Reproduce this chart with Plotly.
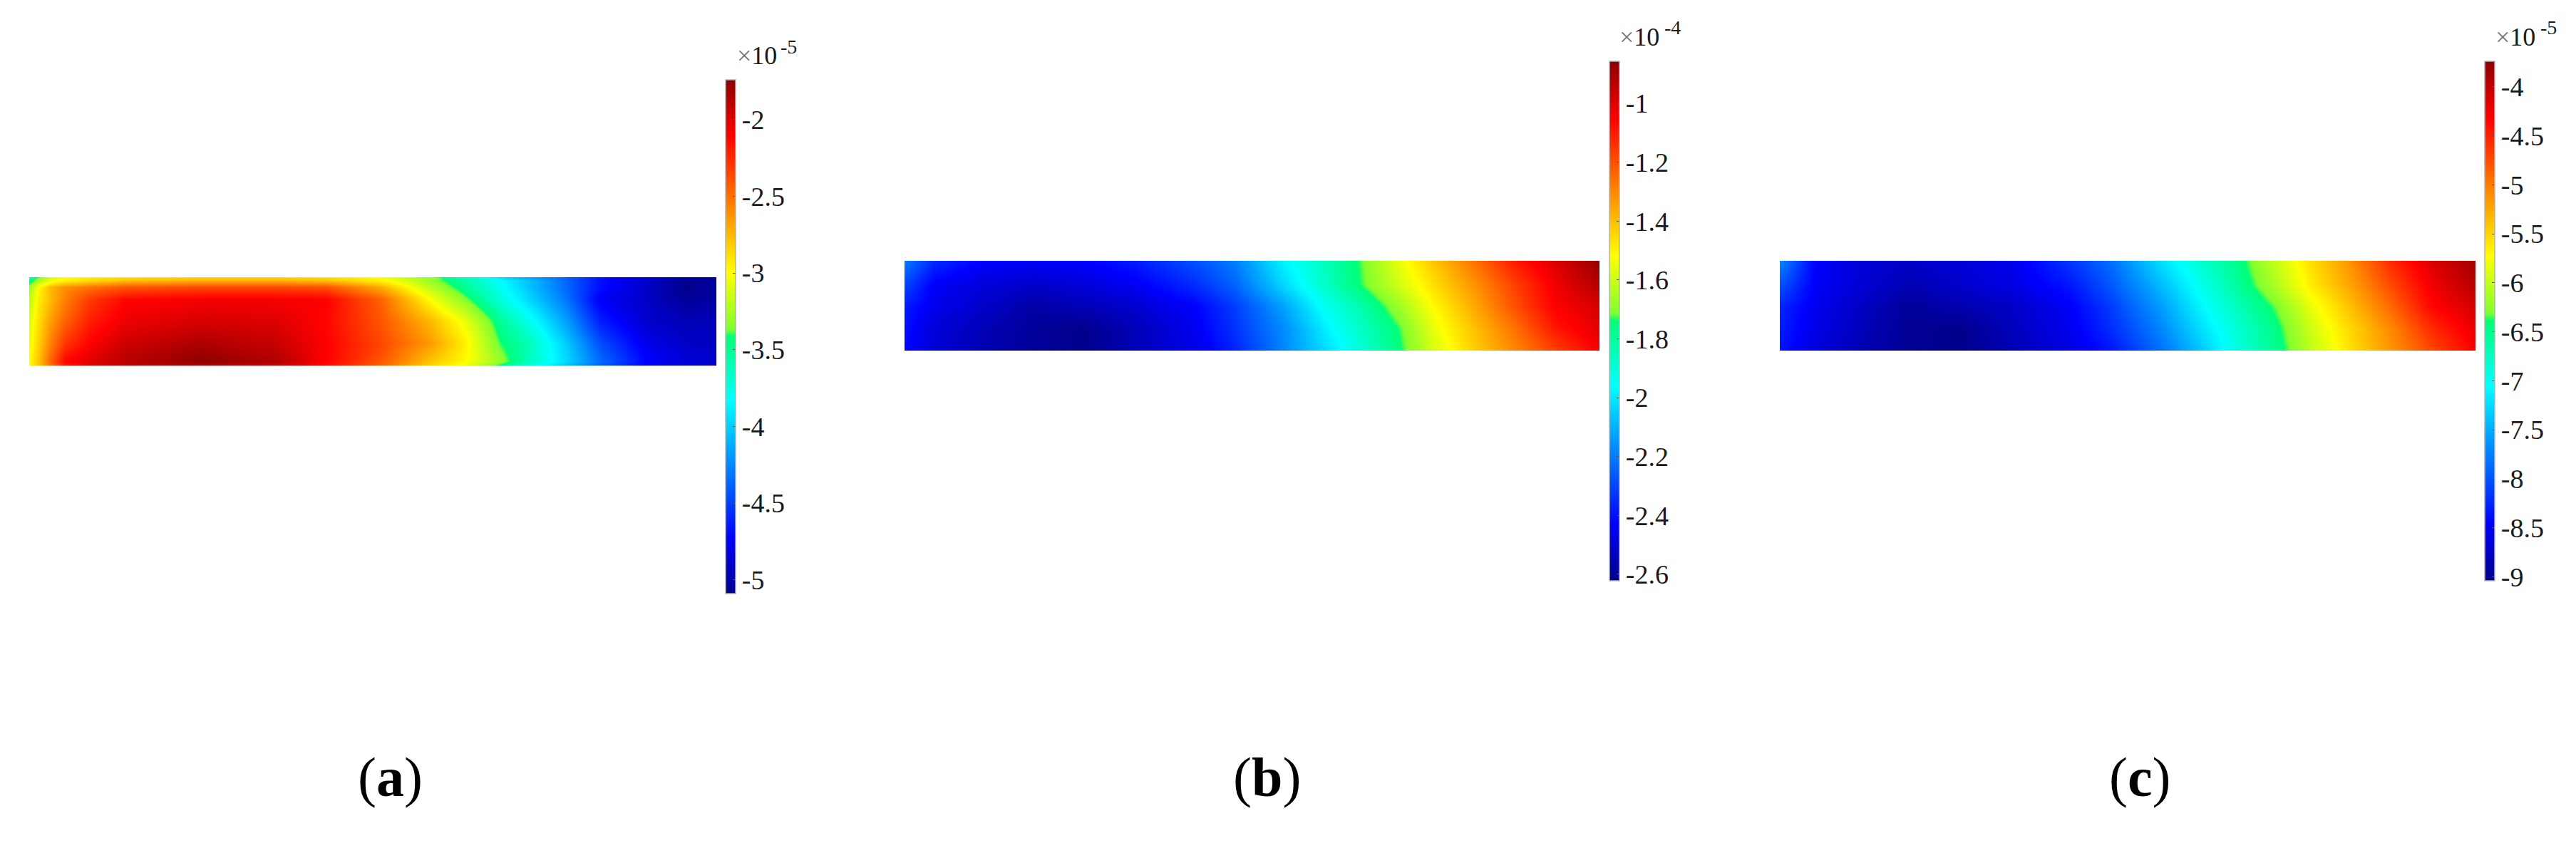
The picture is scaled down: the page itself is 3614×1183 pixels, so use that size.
"""Three displacement maps with jet colour bars, panels (a), (b), (c)."""

import plotly.graph_objects as go

FONT = "Liberation Serif"

# colour scale
jet = [
    [0.0, "#00008c"],
    [0.11, "#0000ff"],
    [0.375, "#00ffff"],
    [0.5, "#00ff78"],
    [0.515, "#80ff30"],
    [0.625, "#ffff00"],
    [0.89, "#ff0000"],
    [1.0, "#8c0000"],
]

# panel (a), values in units of 1e-5
x_a = [0, .012, .031, .052, .089, .140, .249, .358, .431, .511, .584, .635, .686, .729, .780, .831, .897, .955, 1]
y_a = [0, .04, .114, .25, .5, .75, .95, 1]
z_a = [
    [-3.6, -3.4, -3.1, -3.0, -2.95, -2.9, -2.85, -2.85, -2.9, -3.0, -3.3, -3.65, -3.95, -4.15, -4.4, -4.65, -4.85, -5.0, -5.0],
    [-3.5, -3.25, -3.05, -2.95, -2.85, -2.75, -2.7, -2.7, -2.75, -2.95, -3.3, -3.55, -3.83, -4.05, -4.35, -4.68, -4.88, -5.08, -5.03],
    [-3.3, -3.0, -2.75, -2.6, -2.5, -2.4, -2.35, -2.35, -2.38, -2.7, -3.2, -3.5, -3.8, -4.05, -4.35, -4.68, -4.9, -5.09, -5.03],
    [-3.2, -2.95, -2.75, -2.55, -2.3, -2.12, -2.08, -2.08, -2.1, -2.45, -3.0, -3.35, -3.72, -3.98, -4.3, -4.75, -4.9, -5.05, -5.02],
    [-3.1, -2.9, -2.65, -2.45, -2.2, -2.05, -1.98, -2.0, -2.12, -2.4, -2.75, -3.05, -3.5, -3.78, -4.15, -4.62, -4.88, -4.95, -4.95],
    [-3.05, -2.85, -2.55, -2.3, -2.1, -1.95, -1.84, -1.93, -2.1, -2.35, -2.65, -2.95, -3.4, -3.62, -4.0, -4.45, -4.78, -4.9, -4.92],
    [-3.0, -2.8, -2.45, -2.12, -2.0, -1.88, -1.75, -1.85, -2.1, -2.4, -2.8, -2.98, -3.3, -3.65, -3.95, -4.35, -4.72, -4.85, -4.88],
    [-3.0, -2.8, -2.5, -2.2, -2.05, -1.92, -1.85, -1.95, -2.15, -2.45, -2.85, -3.05, -3.45, -3.75, -4.05, -4.4, -4.75, -4.85, -4.88],
]
ticks_a = [-2, -2.5, -3, -3.5, -4, -4.5, -5]
range_a = [-5.09, -1.74]

# panel (b), values in units of 1e-4
x_b = [0, .042, .114, .186, .258, .33, .417, .474, .546, .604, .654, .712, .762, .82, .877, .935, 1]
y_b = [0, .27, .51, .748, 1]
z_b = [
    [-2.2, -2.35, -2.43, -2.44, -2.43, -2.38, -2.28, -2.2, -1.98, -1.85, -1.73, -1.55, -1.41, -1.26, -1.10, -.99, -.87],
    [-2.3, -2.44, -2.49, -2.52, -2.49, -2.45, -2.35, -2.25, -2.03, -1.87, -1.74, -1.59, -1.46, -1.32, -1.17, -1.03, -.92],
    [-2.38, -2.46, -2.52, -2.58, -2.55, -2.51, -2.43, -2.32, -2.13, -1.94, -1.83, -1.67, -1.51, -1.36, -1.2, -1.05, -.98],
    [-2.4, -2.49, -2.55, -2.6, -2.62, -2.55, -2.45, -2.34, -2.17, -1.99, -1.87, -1.73, -1.55, -1.4, -1.26, -1.09, -1.0],
    [-2.42, -2.5, -2.56, -2.6, -2.62, -2.55, -2.47, -2.37, -2.18, -2.03, -1.9, -1.75, -1.58, -1.43, -1.3, -1.17, -1.04],
]
ticks_b = [-1, -1.2, -1.4, -1.6, -1.8, -2, -2.2, -2.4, -2.6]
range_b = [-2.622, -0.857]

# panel (c), values in units of 1e-5
x_c = [0, .051, .116, .188, .26, .331, .418, .475, .547, .605, .655, .713, .763, .82, .878, .936, 1]
y_c = [0, .27, .51, .748, 1]
z_c = [
    [-7.7, -8.46, -8.65, -8.75, -8.65, -8.56, -8.16, -7.85, -7.23, -6.82, -6.5, -5.99, -5.55, -5.12, -4.55, -4.15, -3.85],
    [-8.0, -8.5, -8.68, -8.85, -8.72, -8.6, -8.34, -7.98, -7.43, -6.97, -6.58, -6.1, -5.63, -5.23, -4.73, -4.25, -3.95],
    [-8.25, -8.54, -8.76, -8.97, -8.86, -8.75, -8.48, -8.13, -7.6, -7.1, -6.75, -6.32, -5.83, -5.38, -4.9, -4.35, -4.1],
    [-8.3, -8.58, -8.8, -9.0, -9.04, -8.8, -8.53, -8.22, -7.72, -7.23, -6.85, -6.44, -5.95, -5.5, -5.07, -4.55, -4.2],
    [-8.35, -8.65, -8.85, -9.0, -9.04, -8.85, -8.6, -8.35, -7.85, -7.37, -6.92, -6.5, -6.04, -5.57, -5.15, -4.72, -4.3],
]
ticks_c = [-4, -4.5, -5, -5.5, -6, -6.5, -7, -7.5, -8, -8.5, -9]
range_c = [-9.04, -3.74]

labels = ["a", "b", "c"]
exponents = ["-5", "-4", "-5"]

W, H = 3614, 1183

# pixel boxes: map (left, right, top, bottom), bar (left, top, bottom),
# exponent "x10" (x, y) and its power (x, y), label x
panels = [
    dict(x=x_a, y=y_a, z=z_a, ticks=ticks_a, rng=range_a, map=(41, 1005, 389, 513), bar=(1018, 112, 833),
         base=(1032, 78), power=(1093, 65), lab=547),
    dict(x=x_b, y=y_b, z=z_b, ticks=ticks_b, rng=range_b, map=(1269, 2244, 366, 492), bar=(2258, 86, 815),
         base=(2270, 52), power=(2333, 39), lab=1777),
    dict(x=x_c, y=y_c, z=z_c, ticks=ticks_c, rng=range_c, map=(2497, 3473, 366, 492), bar=(3486, 86, 815),
         base=(3499, 52), power=(3562, 39), lab=3002),
]

fig = go.Figure()
layout = {}

for i, p in enumerate(panels, start=1):
    left, right, top, bottom = p["map"]
    bar_left, bar_top, bar_bottom = p["bar"]
    suffix = "" if i == 1 else str(i)

    fig.add_trace(go.Heatmap(
        x=p["x"],
        y=p["y"],
        z=p["z"],
        xaxis="x" + suffix,
        yaxis="y" + suffix,
        zsmooth="best",
        zmin=p["rng"][0],
        zmax=p["rng"][1],
        colorscale=jet,
        colorbar=dict(
            thickness=14,
            thicknessmode="pixels",
            lenmode="pixels",
            len=bar_bottom - bar_top,
            x=bar_left / W,
            xanchor="left",
            y=1 - bar_top / H,
            yanchor="top",
            xpad=0,
            ypad=0,
            outlinecolor="#b4b4b4",
            outlinewidth=1.5,
            ticks="inside",
            ticklen=4,
            tickwidth=1,
            tickcolor="#555555",
            tickvals=p["ticks"],
            ticktext=[str(t) for t in p["ticks"]],
            tickfont=dict(family=FONT, size=38, color="#1a1a1a"),
        ),
    ))

    layout["xaxis" + suffix] = dict(
        domain=[left / W, right / W], range=[0, 1], visible=False,
        anchor="y" + suffix,
    )
    layout["yaxis" + suffix] = dict(
        domain=[1 - bottom / H, 1 - top / H], range=[1, 0], visible=False,
        anchor="x" + suffix,
    )

    # exponent above the colour bar, base and power set apart for their sizes
    fig.add_annotation(
        text="<span style='color:#777777'>×</span>10",
        x=p["base"][0] / W, y=1 - p["base"][1] / H,
        xref="paper", yref="paper", xanchor="left", yanchor="middle",
        showarrow=False, font=dict(family=FONT, size=36, color="#1a1a1a"),
    )
    fig.add_annotation(
        text=exponents[i - 1],
        x=p["power"][0] / W, y=1 - p["power"][1] / H,
        xref="paper", yref="paper", xanchor="left", yanchor="middle",
        showarrow=False, font=dict(family=FONT, size=28, color="#1a1a1a"),
    )
    # panel label
    fig.add_annotation(
        text=f"(<b>{labels[i - 1]}</b>)",
        x=p["lab"] / W, y=1 - 1090 / H,
        xref="paper", yref="paper", xanchor="center", yanchor="middle",
        showarrow=False, font=dict(family=FONT, size=78, color="#000000"),
    )

fig.update_layout(
    width=W,
    height=H,
    margin=dict(l=0, r=0, t=0, b=0),
    paper_bgcolor="#ffffff",
    plot_bgcolor="#ffffff",
    showlegend=False,
    **layout,
)

fig.write_html(
    "out.html",
    config={"displayModeBar": False},
    post_script="document.body.style.margin='0';",
)
